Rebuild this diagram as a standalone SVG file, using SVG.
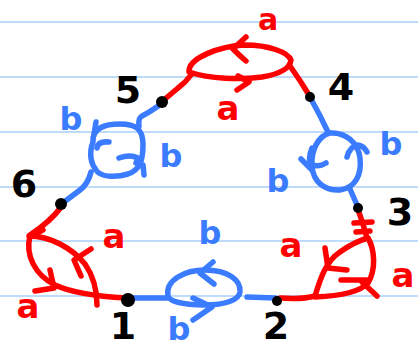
<svg xmlns="http://www.w3.org/2000/svg" width="418" height="348" viewBox="0 0 418 348">
<style>
.paper{stroke:#a9d0f7;stroke-width:1.6}
.r{fill:none;stroke:#ff0000;stroke-width:5.5;stroke-linecap:round;stroke-linejoin:round}
.b{fill:none;stroke:#3b7bff;stroke-width:5.5;stroke-linecap:round;stroke-linejoin:round}
.dot{fill:#000}
.num{font-family:"DejaVu Sans",sans-serif;font-weight:bold;font-size:38px;fill:#000;text-anchor:middle}
.la{font-family:"DejaVu Sans",sans-serif;font-weight:bold;font-size:34px;fill:#ff0000;text-anchor:middle}
.lb{font-family:"DejaVu Sans",sans-serif;font-weight:bold;font-size:32px;fill:#3b7bff;text-anchor:middle}
</style>
<rect width="418" height="348" fill="#fff"/>
<g id="paper">
<line class="paper" x1="0" y1="22" x2="418" y2="22"/>
<line class="paper" x1="0" y1="77" x2="418" y2="77"/>
<line class="paper" x1="0" y1="132" x2="418" y2="132"/>
<line class="paper" x1="0" y1="187" x2="418" y2="187"/>
<line class="paper" x1="0" y1="241" x2="418" y2="241"/>
<line class="paper" x1="0" y1="296" x2="418" y2="296"/>
</g>
<g id="connectors">
<path class="r" d="M165,99 L178,88 Q186,82 191,75"/>
<path class="r" d="M189,72 C188,58 220,46 245,45 C268,45 288,52 291,60 C290,68 280,74 262,77 C240,80 210,79 189,72 Z"/>
<path class="r" d="M246,37 L233,49 Q240,56 246,61"/>
<path class="r" d="M238,76 L249,82 L237,90"/>
<path class="r" d="M290,66 Q300,80 309,95"/>
<path class="b" d="M161,104 Q150,112 142,116 Q138,118 139,126"/>
<path class="b" d="M93,142 C92,128 105,124 120,124 C135,124 143,128 143,145 C143,160 140,170 128,174 C115,178 100,177 96,170 C92,165 88,155 93,142 Z"/>
<path class="b" d="M96,122 L94,134"/>
<path class="b" d="M143,165 L144,175"/>
<path class="b" d="M109,142 Q98,141 97,148"/>
<path class="b" d="M119,158 Q130,154 138,158 L136,163"/>
<path class="b" d="M91,172 Q88,184 80,190 L64,202"/>
<path class="b" d="M311,99 Q320,115 328,132"/>
<path class="b" d="M330,133 C345,132 358,142 360,158 C362,175 355,188 340,190 C325,191 313,182 312,166 C311,150 318,136 330,133 Z"/>
<path class="b" d="M312,148 Q307,160 312,165 Q320,167 326,163"/>
<path class="b" d="M301,159 L312,170"/>
<path class="b" d="M347,157 Q350,146 358,145 Q364,146 367,152"/>
<path class="b" d="M350,189 L357,205"/>
<path class="b" d="M130,298 L168,298"/>
<path class="b" d="M168,296 C165,280 185,270 205,270 C228,270 241,280 240,292 C239,300 225,305 205,305 C185,305 170,302 168,296 Z"/>
<path class="b" d="M213,262 L200,273 L214,284"/>
<path class="b" d="M193,298 L212,307 L193,320"/>
<path class="b" d="M247,297 L275,298"/>
<path class="r" d="M62,206 Q50,222 30,235"/>
<path class="r" d="M29,236 C50,236 72,248 85,264 C94,277 97,290 97,305"/>
<path class="r" d="M30,236 C25,255 35,275 55,285 C70,292 90,296 126,298"/>
<path class="r" d="M33,236 L43,230"/>
<path class="r" d="M91,249 L74,260 L81,276"/>
<path class="r" d="M50,270 L54,288 L35,291"/>
<path class="r" d="M358,210 Q362,220 367,238"/>
<path class="r" d="M354,223 L372,222"/>
<path class="r" d="M356,232 L370,231"/>
<path class="r" d="M280,298 C295,299 308,298 315,296 C320,280 325,262 340,252 C350,245 360,240 368,238 C375,250 376,270 368,283 C360,292 340,296 315,297"/>
<path class="r" d="M325,248 L328,268 L347,270"/>
<path class="r" d="M341,280 L367,280"/>
<path class="r" d="M362,282 L377,296"/>
</g>
<g id="node1"><circle class="dot" cx="128" cy="300" r="7"/><text class="num" x="123" y="339">1</text></g>
<g id="node2"><circle class="dot" cx="277" cy="301" r="5"/><text class="num" x="276" y="339">2</text></g>
<g id="node3"><circle class="dot" cx="358" cy="208" r="5"/><text class="num" x="400" y="225">3</text></g>
<g id="node4"><circle class="dot" cx="310" cy="97" r="5"/><text class="num" x="341" y="100">4</text></g>
<g id="node5"><circle class="dot" cx="162" cy="102" r="6"/><text class="num" x="128" y="103">5</text></g>
<g id="node6"><circle class="dot" cx="61" cy="204" r="6"/><text class="num" x="24" y="197">6</text></g>
<g id="labels">
<text class="la" x="268" y="30" style="font-size:30px">a</text>
<text class="la" x="228" y="120">a</text>
<text class="la" x="114" y="248">a</text>
<text class="la" x="28" y="318">a</text>
<text class="la" x="291" y="257">a</text>
<text class="la" x="403" y="287">a</text>
<text class="lb" x="71" y="130">b</text>
<text class="lb" x="171" y="167">b</text>
<text class="lb" x="278" y="192">b</text>
<text class="lb" x="391" y="155">b</text>
<text class="lb" x="210" y="244">b</text>
<text class="lb" x="179" y="340">b</text>
</g>
</svg>
